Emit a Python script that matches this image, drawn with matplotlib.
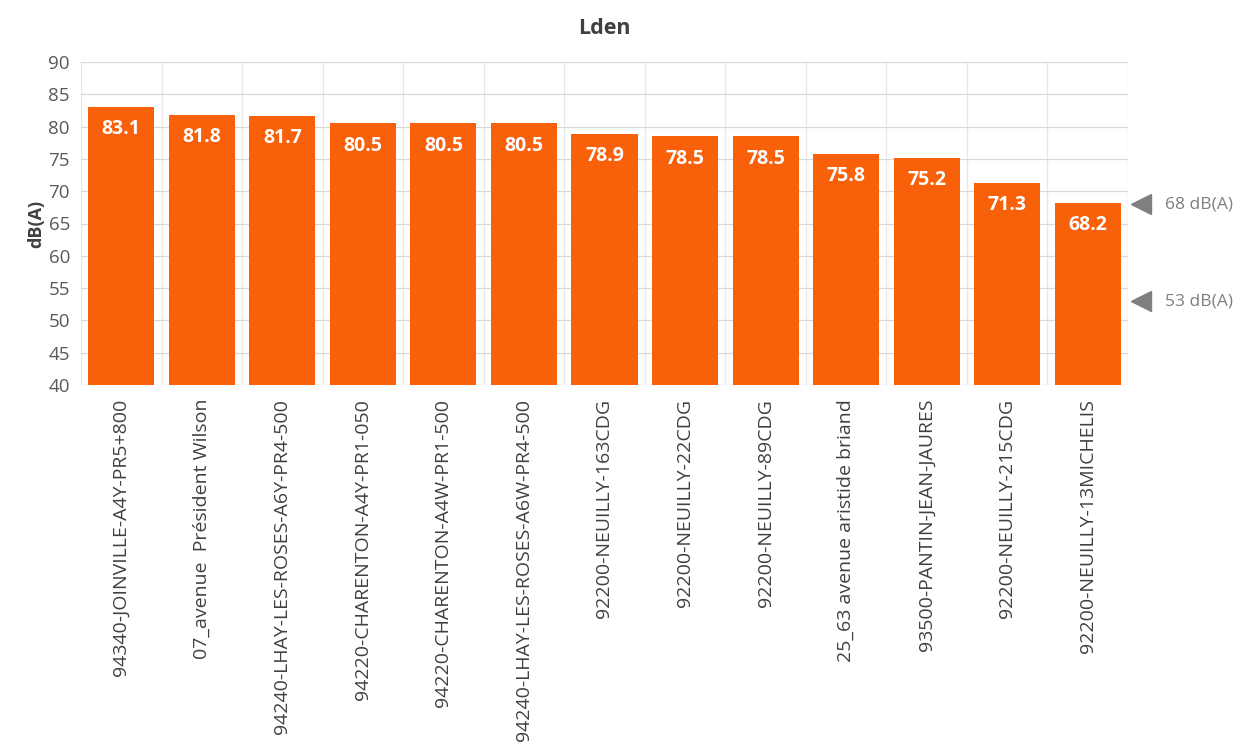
import numpy as np
import matplotlib.pyplot as plt
import matplotlib.transforms as mtransforms

stations = [
    "94340-JOINVILLE-A4Y-PR5+800",
    "07_avenue  Président Wilson",
    "94240-LHAY-LES-ROSES-A6Y-PR4-500",
    "94220-CHARENTON-A4Y-PR1-050",
    "94220-CHARENTON-A4W-PR1-500",
    "94240-LHAY-LES-ROSES-A6W-PR4-500",
    "92200-NEUILLY-163CDG",
    "92200-NEUILLY-22CDG",
    "92200-NEUILLY-89CDG",
    "25_63 avenue aristide briand",
    "93500-PANTIN-JEAN-JAURES",
    "92200-NEUILLY-215CDG",
    "92200-NEUILLY-13MICHELIS",
]
lden = [83.1, 81.8, 81.7, 80.5, 80.5, 80.5, 78.9, 78.5, 78.5, 75.8, 75.2, 71.3, 68.2]
thresholds = [68, 53]
threshold_labels = ["68 dB(A)", "53 dB(A)"]

plt.rcParams['font.family'] = ['Open Sans', 'DejaVu Sans']

fig = plt.figure(figsize=(12.59, 7.45), dpi=100)
ax = fig.add_axes([81/1259, 1-385/745, (1128-81)/1259, (385-62)/745])

x = np.arange(len(stations))
bottom = 40
ax.bar(x, np.array(lden) - bottom, bottom=bottom, width=0.82, color='#F8600A', zorder=3)

# value labels inside the top of each bar
for xi, v in zip(x, lden):
    ax.text(xi, v - 1.9, f"{v:.1f}", ha='center', va='top', color='white',
            fontsize=14, fontweight='bold', zorder=4)

ax.set_xlim(-0.5, len(stations) - 0.5)
ax.set_ylim(40, 90)
ax.set_yticks(np.arange(40, 91, 5))
ax.set_xticks(x)
ax.set_xticklabels(stations, rotation=90, fontsize=14, color='#404040')
ax.tick_params(axis='y', labelsize=13.5, colors='#595959', length=0, pad=8)
ax.tick_params(axis='x', which='both', length=0, pad=10)

ax.set_xticks(np.arange(-0.5, len(stations), 1), minor=True)
ax.grid(axis='y', color='#D9D9D9', linewidth=0.9, zorder=0)
ax.grid(axis='x', which='minor', color='#E6E6E6', linewidth=0.9, zorder=0)
ax.grid(axis='x', which='major', visible=False)
for s in ax.spines.values():
    s.set_visible(False)

ax.set_ylabel("dB(A)", fontsize=13, fontweight='bold', color='#404040', labelpad=2)
ax.set_title("Lden", fontsize=15.5, fontweight='bold', color='#404040', pad=20)

# threshold markers on the right
trans = mtransforms.blended_transform_factory(ax.transAxes, ax.transData)
for t, lab in zip(thresholds, threshold_labels):
    ax.plot([1.012], [t], marker='<', markersize=14, color='#7F7F7F', transform=trans,
            clip_on=False, linestyle='none')
    ax.text(1.035, t, lab, transform=trans, fontsize=12.5, color='#7F7F7F', va='center', ha='left')

fig.savefig("out.png", dpi=100)
